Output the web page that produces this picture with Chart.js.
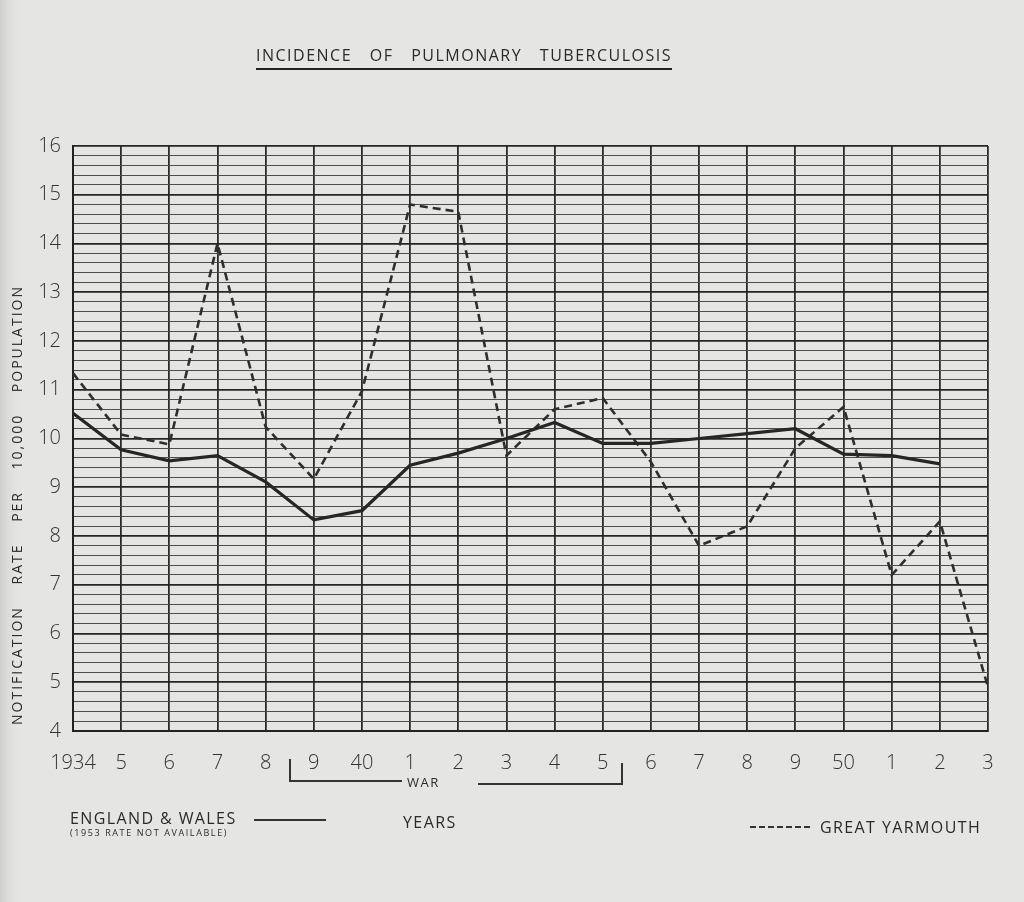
<!DOCTYPE html>
<html>
<head>
<meta charset="utf-8">
<script src="https://cdn.jsdelivr.net/npm/chart.js@4.4.1/dist/chart.umd.min.js"></script>
<style>
  html, body { margin:0; padding:0; background:#e5e5e3; }
  #wrap { position:relative; width:1024px; height:902px; overflow:hidden;
          background: linear-gradient(to right, #cfcfcc 0px, #dcdcda 8px, #e5e5e3 18px); }
  #chartBox { position:absolute; left:0; top:0; width:1024px; height:902px; }
  .t { position:absolute; font-family:"Open Sans","DejaVu Sans",sans-serif; color:#2a2a2a; white-space:nowrap; }
  .flexrow { display:flex; justify-content:space-between; }
</style>
</head>
<body>
<div id="wrap">
  <div id="chartBox"><canvas id="c"></canvas></div>

  <div class="t flexrow" style="left:256px; top:44px; width:416px; font-size:16px; letter-spacing:1.5px; border-bottom:2px solid #222; padding-bottom:2px;">
    <span>INCIDENCE</span><span>OF</span><span>PULMONARY</span><span>TUBERCULOSIS</span>
  </div>

  <div class="t flexrow" style="left:-203px; top:495px; width:440px; height:20px; font-size:14px; letter-spacing:2px; transform:rotate(-90deg); transform-origin:50% 50%;">
    <span>NOTIFICATION</span><span>RATE</span><span>PER</span><span>10,000</span><span>POPULATION</span>
  </div>

  <!-- WAR bracket -->
  <div style="position:absolute; left:289px; top:759px; width:111px; height:21px; border-left:2px solid #333; border-bottom:2px solid #333;"></div>
  <div class="t" style="left:407px; top:773px; font-size:13px; letter-spacing:1.5px;">WAR</div>
  <div style="position:absolute; left:478px; top:763px; width:143px; height:20px; border-right:2px solid #333; border-bottom:2px solid #333;"></div>

  <!-- legend / footer -->
  <div class="t" style="left:70px; top:807px; font-size:16px; letter-spacing:1.4px;">ENGLAND &amp; WALES</div>
  <div style="position:absolute; left:254px; top:819px; width:72px; height:2px; background:#333;"></div>
  <div class="t" style="left:70px; top:826px; font-size:9px; letter-spacing:1.6px;">(1953 RATE NOT AVAILABLE)</div>
  <div class="t" style="left:403px; top:811px; font-size:16px; letter-spacing:1.4px;">YEARS</div>
  <div style="position:absolute; left:750px; top:826px; width:62px; height:2px; background:repeating-linear-gradient(to right,#333 0px,#333 6px,transparent 6px,transparent 9px);"></div>
  <div class="t" style="left:820px; top:816px; font-size:16px; letter-spacing:1.4px;">GREAT YARMOUTH</div>
</div>

<script>
// ---- data ----
const years = ['1934','1935','1936','1937','1938','1939','1940','1941','1942','1943',
               '1944','1945','1946','1947','1948','1949','1950','1951','1952','1953'];
const yearTickLabels = ['1934','5','6','7','8','9','40','1','2','3',
                        '4','5','6','7','8','9','50','1','2','3'];
const englandWales = [10.52, 9.77, 9.54, 9.65, 9.11, 8.33, 8.52, 9.45, 9.70, 10.0,
                      10.33, 9.90, 9.90, 10.0, 10.1, 10.2, 9.68, 9.65, 9.48, null];
const greatYarmouth = [11.34, 10.08, 9.88, 14.0, 10.24, 9.17, 10.97, 14.8, 14.65, 9.65,
                       10.6, 10.83, 9.52, 7.8, 8.2, 9.8, 10.65, 7.2, 8.3, 4.9];
const yMin = 4, yMax = 16, yMinorStep = 0.2;

const isMajor = v => Math.abs(v - Math.round(v)) < 1e-6;
const FONT = '"Open Sans","DejaVu Sans",sans-serif';

new Chart(document.getElementById('c'), {
  type: 'line',
  data: {
    labels: years,
    datasets: [
      { label: 'England & Wales', data: englandWales, borderColor: '#262626', borderWidth: 3.2,
        pointRadius: 0, tension: 0, spanGaps: false },
      { label: 'Great Yarmouth', data: greatYarmouth, borderColor: '#2e2e2e', borderWidth: 2.6,
        borderDash: [8, 5], pointRadius: 0, tension: 0 }
    ]
  },
  options: {
    responsive: true, maintainAspectRatio: false, animation: false,
    layout: { padding: { top: 146, right: 36, left: 0, bottom: 0 } },
    plugins: { legend: { display: false }, title: { display: false }, tooltip: { enabled: false } },
    scales: {
      x: {
        type: 'category', offset: false,
        grid: { color: '#2b2b2b', lineWidth: 1.8, drawTicks: false },
        border: { color: '#222', width: 2 },
        ticks: { autoSkip: false, maxRotation: 0, padding: 20, color: '#333',
                 font: { family: FONT, size: 20, weight: '300' },
                 callback: (v, i) => yearTickLabels[i] },
        afterFit: s => { s.height = 902 - 731; }
      },
      y: {
        min: yMin, max: yMax,
        grid: { drawTicks: false,
                color: ctx => isMajor(ctx.tick.value) ? '#262626' : '#4d4d4d',
                lineWidth: ctx => isMajor(ctx.tick.value) ? 1.8 : 1.1 },
        border: { color: '#222', width: 2 },
        ticks: { stepSize: yMinorStep, maxTicksLimit: 100, autoSkip: false, padding: 12, color: '#333',
                 font: { family: FONT, size: 20, weight: '300' },
                 callback: v => isMajor(v) ? String(Math.round(v)) : '' },
        afterFit: s => { s.width = 73; }
      }
    }
  }
});
</script>
</body>
</html>
